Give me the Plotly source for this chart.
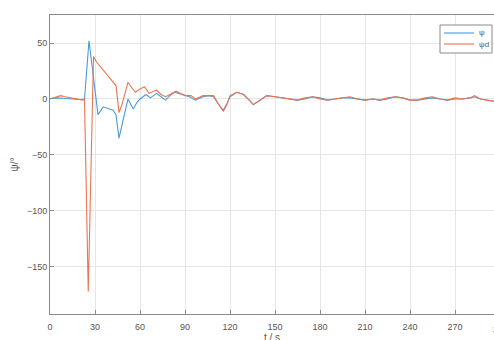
import plotly.graph_objects as go

# ---- data ----
blue_x = [0, 5, 10, 15, 20, 23, 26, 32, 35.5, 42, 44, 46, 50, 52, 55.5, 58, 60, 64, 67, 71, 74, 77, 80, 83, 86, 90,
          93, 97, 102, 106, 109, 112, 115.5, 118, 120, 124.5, 129, 133.5, 135.5, 139, 144.5, 150,
          155, 160, 165, 170, 175, 180, 185, 190, 195, 200, 205, 210, 215, 220, 225, 230, 235, 240, 245,
          250, 255, 260, 265, 270, 275, 280, 283, 287, 291, 296]
blue_y = [0.5, 1, 0.5, 0, -0.5, 0, 52, -14, -7, -10, -14, -35, -10, 0, -9, -3, 0, 4, 1, 5, 2, -1, 3, 6, 5, 3,
          2, -1, 2, 3, 2, -4, -10, -4, 2, 6, 4, -2, -5, -2, 3, 2,
          1, 0, -1, 0, 2, 1, -1, 0, 1, 1, 0, -1, 0, -1, 0, 2, 1, -1, -1,
          0, 1, 0, -1, 0, 0, 1, 2, 0, -1, -2]

red_x = [0, 3, 7, 10, 14, 18, 22, 23, 25.5, 29, 31, 44, 46, 48, 52, 54.5, 57, 60, 63, 66, 68, 71, 74, 77, 80, 84,
         87, 90, 94, 97, 102, 106, 109, 112, 115.5, 118, 120, 124.5, 129, 133.5, 135.5, 139, 144.5, 150,
         155, 160, 165, 170, 175, 180, 185, 190, 195, 200, 205, 210, 215, 220, 225, 230, 235, 240, 245,
         250, 255, 260, 265, 270, 275, 280, 283, 287, 291, 296]
red_y = [0, 1, 3, 2, 1, 0, -1, 0, -172, 38, 33, 12, -12, -5, 15, 10, 6, 9, 11, 5, 6, 8, 4, 2, 4, 7,
         5, 3, 3, 0, 3, 3, 3, -4, -11, -5, 3, 6, 4, -2, -5, -2, 3, 2,
         1, 0, -1, 1, 2, 0, -1, 0, 1, 2, 0, -1, 0, -1, 1, 2, 1, -1, -1,
         1, 2, 0, -1, 1, 0, 1, 3, 0, -1, -2]

x_ticks = [0, 30, 60, 90, 120, 150, 180, 210, 240, 270]
y_ticks = [50, 0, -50, -100, -150]
legend_names = ["ψ", "ψd"]
colors = ["#4a9ad6", "#ea7450"]
x_title = "t / s"
y_title = "ψ/°"

fig = go.Figure()
fig.add_trace(go.Scatter(x=blue_x, y=blue_y, mode="lines", name=legend_names[0],
                         line=dict(color=colors[0], width=1.1), showlegend=False))
fig.add_trace(go.Scatter(x=red_x, y=red_y, mode="lines", name=legend_names[1],
                         line=dict(color=colors[1], width=1.1), showlegend=False))

axis_common = dict(showgrid=True, gridcolor="#e6e6e6", gridwidth=1, zeroline=False,
                   showline=True, linecolor="#8a8a8a", linewidth=1,
                   ticks="inside", ticklen=4, tickcolor="#8a8a8a", automargin=False,
                   tickfont=dict(family="Liberation Sans", size=9, color="#555"))

fig.update_xaxes(range=[0, 296], tickvals=x_ticks, mirror=True, ticklabelstandoff=4,
                 **axis_common)
fig.update_yaxes(range=[-192, 75], tickvals=y_ticks, mirror=False,
                 title=dict(text=y_title, font=dict(family="Liberation Sans", size=10, color="#555"),
                            standoff=6),
                 **axis_common)

W, H, L, B = 444.0, 299.0, 50.0, 314.0
def px(x):
    return (x - L) / W
def py(y):
    return (B - y) / H

# x-axis title (partly cut by the bottom edge, as in the reference)
fig.add_annotation(text=x_title, xref="paper", yref="paper", x=px(272), y=py(337),
                   xanchor="center", yanchor="middle", showarrow=False,
                   font=dict(family="Liberation Sans", size=10, color="#555"))

fig.add_annotation(text="300", xref="paper", yref="paper", x=300 / 296, y=0, yshift=-9,
                   xanchor="center", yanchor="top", showarrow=False,
                   font=dict(family="Liberation Sans", size=9, color="#555"))

# compact legend box (MATLAB-style)
fig.add_shape(type="rect", xref="paper", yref="paper",
              x0=px(440), x1=px(492), y0=py(53), y1=py(25),
              line=dict(color="#8a8a8a", width=1), fillcolor="white", layer="above")
for i, (name, c) in enumerate(zip(legend_names, colors)):
    yy = 33 + i * 11
    fig.add_shape(type="line", xref="paper", yref="paper",
                  x0=px(444), x1=px(474), y0=py(yy), y1=py(yy),
                  line=dict(color=c, width=1.1), layer="above")
    fig.add_annotation(text=name, xref="paper", yref="paper", x=px(477), y=py(yy),
                       xanchor="left", yanchor="middle", showarrow=False,
                       font=dict(family="Liberation Sans", size=8, color="#555"))

fig.update_layout(
    width=494, height=340,
    margin=dict(l=50, r=0, t=15, b=26),
    paper_bgcolor="white", plot_bgcolor="white",
    showlegend=False,
)

fig.write_html("out.html")
